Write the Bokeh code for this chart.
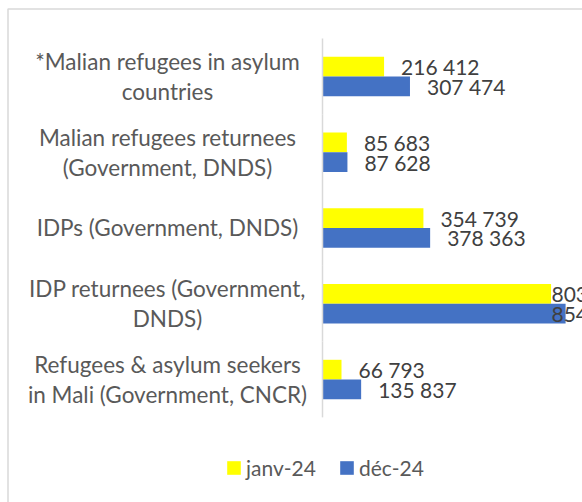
from bokeh.plotting import figure
from bokeh.models import ColumnDataSource, Range1d, Legend, LegendItem
from bokeh.core.properties import value
from bokeh.transform import dodge
from bokeh.embed import file_html
from bokeh.resources import INLINE

categories = [
    "*Malian refugees in asylum\ncountries",
    "Malian refugees returnees\n(Government, DNDS)",
    "IDPs (Government, DNDS)",
    "IDP returnees (Government,\nDNDS)",
    "Refugees & asylum seekers\nin Mali (Government, CNCR)",
]
series_names = ["janv-24", "déc-24"]
janv_24 = [216412, 85683, 354739, 803400, 66793]
dec_24 = [307474, 87628, 378363, 854500, 135837]

YELLOW = "#FFFF00"
BLUE = "#4472C4"
FONT = "Lato"

k = 3515.0          # data units per pixel
x_start = -322 * k
x_end = 260 * k
label_gap = 17 * k
label_cap = 229 * k

y_top = -1.0033
y_bottom = 5.624

pos = list(range(len(categories)))


def fmt(v):
    return f"{v:,}".replace(",", " ")


src = ColumnDataSource(dict(
    y=pos,
    cat=categories,
    janv=janv_24,
    dec=dec_24,
    janv_lbl=[fmt(v) for v in janv_24],
    dec_lbl=[fmt(v) for v in dec_24],
    janv_lx=[min(v + label_gap, label_cap) for v in janv_24],
    dec_lx=[min(v + label_gap, label_cap) for v in dec_24],
    zero=[0] * len(pos),
    top=[p_ - 0.5 for p_ in pos],
    bot=[p_ + 0.5 for p_ in pos],
))

p = figure(
    width=582, height=502,
    x_range=Range1d(x_start, x_end),
    y_range=Range1d(y_bottom, y_top),
    x_axis_location=None, y_axis_location=None,
    toolbar_location=None, output_backend="svg",
    min_border=0,
)
p.grid.visible = False
p.outline_line_color = None
p.background_fill_color = "white"
p.border_fill_color = "white"

# chart-area border (only top and left edges fall inside the picture)
p.quad(left=[-314.5 * k], right=[x_end * 2], top=[-0.891], bottom=[y_bottom + 2],
       fill_color=None, line_color="#d9d9d9", line_width=1.5)

bh = 0.26
r_j = p.hbar(y=dodge("y", -bh / 2), left=0, right="janv", height=bh, source=src,
             fill_color=YELLOW, line_color=None)
r_d = p.hbar(y=dodge("y", bh / 2), left=0, right="dec", height=bh, source=src,
             fill_color=BLUE, line_color=None)

# category axis line
p.segment(x0="zero", x1="zero", y0="top", y1="bot", source=src,
          line_color="#d9d9d9", line_width=1.5)

# value labels
p.text(x="janv_lx", y=dodge("y", -bh / 2), text="janv_lbl", source=src,
       text_font=value(FONT), text_font_size="21px", text_color="#404040",
       text_align="left", text_baseline="middle")
p.text(x="dec_lx", y=dodge("y", bh / 2), text="dec_lbl", source=src,
       text_font=value(FONT), text_font_size="21px", text_color="#404040",
       text_align="left", text_baseline="middle")

# category labels
p.text(x="zero", y="y", text="cat", source=src, x_offset=-155,
       text_font=value(FONT), text_font_size="22.5px", text_color="#595959",
       text_align="center", text_baseline="middle", text_line_height=1.1)

legend = Legend(
    items=[LegendItem(label=series_names[0], renderers=[r_j]),
           LegendItem(label=series_names[1], renderers=[r_d])],
    orientation="horizontal", location=(225, 22),
    glyph_width=17, glyph_height=17, label_standoff=4, spacing=22,
    padding=0, margin=0, border_line_color=None, background_fill_alpha=0,
    label_text_font=FONT, label_text_font_size="21px", label_text_color="#595959",
)
p.add_layout(legend)

open("out.html", "w").write(file_html(p, INLINE))
